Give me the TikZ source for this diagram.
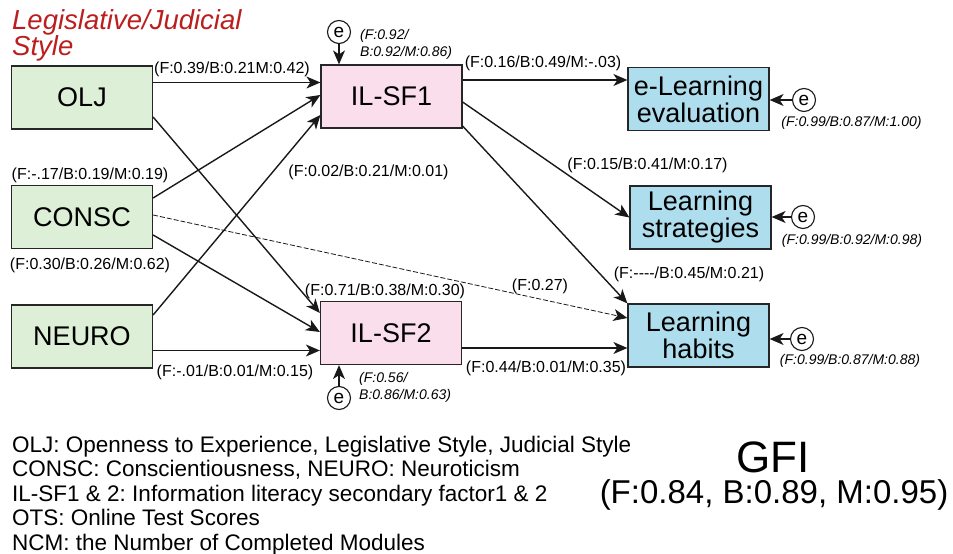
\documentclass[tikz,border=0pt]{standalone}
\usepackage{fontspec}
\setmainfont{Liberation Sans}
\usetikzlibrary{arrows.meta,calc}
\definecolor{boxgreen}{RGB}{221,239,214}
\definecolor{boxpink}{RGB}{250,222,236}
\definecolor{boxblue}{RGB}{174,221,238}
\definecolor{titlered}{RGB}{187,30,30}
\frenchspacing
\begin{document}
\begin{tikzpicture}[x=1bp,y=-1bp,
  box/.style={draw=black!85, line width=1.2bp, minimum width=141bp, minimum height=63bp,
    inner sep=0pt, align=center, font=\fontsize{27bp}{27bp}\selectfont},
  arr/.style={draw=black!90, line width=1.4bp, -{Stealth[length=14bp,width=12bp,inset=4bp]}},
  dasharr/.style={arr, line width=0.8bp, dash pattern=on 5bp off 2bp},
  errc/.style={draw=black!90, circle, line width=1.1bp, minimum size=23bp, inner sep=0pt,
    font=\fontsize{19bp}{19bp}\selectfont},
  lab/.style={font=\fontsize{16bp}{16bp}\selectfont, inner sep=0pt, anchor=base},
  ilab/.style={font=\fontsize{14bp}{14bp}\selectfont\itshape, inner sep=0pt, anchor=base},
  legend/.style={font=\fontsize{22.5bp}{22.5bp}\selectfont, inner sep=0pt, anchor=base west},
  heading/.style={anchor=base west, inner sep=0pt, text=titlered,
    font=\fontsize{27.5bp}{27.5bp}\selectfont\itshape}]
\useasboundingbox (0,0) rectangle (953,554);

% heading
\node[heading] (head1) at (12,30) {Legislative/Judicial};
\node[heading] (head2) at (12,56) {Style};

% exogenous variables
\node[box, fill=boxgreen] (olj)   at (82,97.5)  {OLJ};
\node[box, fill=boxgreen] (consc) at (82,217)   {CONSC};
\node[box, fill=boxgreen] (neuro) at (82,336.5) {NEURO};

% mediators
\node[box, fill=boxpink] (sf1) at (391.5,96.5) {IL-SF1};
\node[box, fill=boxpink] (sf2) at (391,333)    {IL-SF2};

% outcomes
\node[box, fill=boxblue] (eval)   at (698.5,99)    {e-Learning\\evaluation};
\node[box, fill=boxblue] (strat)  at (700.5,217.5) {Learning\\strategies};
\node[box, fill=boxblue] (habits) at (698.5,335.5) {Learning\\habits};

% error terms
\node[errc] (e1) at (339,32)  {e};
\node[errc] (e2) at (339,398) {e};
\node[errc] (e3) at (804,100) {e};
\node[errc] (e4) at (803,217) {e};
\node[errc] (e5) at (802,339) {e};

% paths into IL-SF1 / IL-SF2
\draw[arr] ([yshift=15bp]olj.east) coordinate (p1) -- (p1 -| sf1.west);
\draw[arr] ([yshift=-19.5bp]olj.east) -- ([yshift=20bp]sf2.west);
\draw[arr] ([yshift=19bp]consc.east) -- ([yshift=1.5bp]sf1.west);
\draw[arr] ([yshift=-18bp]consc.east) -- ([yshift=1bp]sf2.west);
\draw[dasharr] ([yshift=2bp]consc.east) -- ([yshift=17.5bp]habits.west);
\draw[arr] ([yshift=21.5bp]neuro.east) -- ([yshift=-18.5bp]sf1.west);
\draw[arr] ([yshift=-14bp]neuro.east) coordinate (p2) -- (p2 -| sf2.west);

% paths into outcomes
\draw[arr] ([yshift=16.5bp]sf1.east) coordinate (p3) -- (p3 -| eval.west);
\draw[arr] ([yshift=-5.5bp]sf1.east) -- (strat.west);
\draw[arr] ([yshift=-29.5bp]sf1.east) -- (habits.north west);
\draw[arr] ([yshift=-15bp]sf2.east) coordinate (p4) -- (p4 -| habits.west);

% error arrows
\draw[arr] (e1.south) -- (e1 |- sf1.north);
\draw[arr] (e2.north) -- (e2 |- sf2.south);
\draw[arr] (e3.west) -- (e3 -| eval.east);
\draw[arr] (e4.west) -- (e4 -| strat.east);
\draw[arr] (e5.west) -- (e5 -| habits.east);

% path coefficients
\node[lab] (l1)  at (232,74)   {(F:0.39/B:0.21M:0.42)};
\node[lab] (l2)  at (543,68)   {(F:0.16/B:0.49/M:-.03)};
\node[lab] (l3)  at (90,180)   {(F:-.17/B:0.19/M:0.19)};
\node[lab] (l4)  at (90,270)   {(F:0.30/B:0.26/M:0.62)};
\node[lab] (l5)  at (368.5,177) {(F:0.02/B:0.21/M:0.01)};
\node[lab] (l6)  at (647.5,170) {(F:0.15/B:0.41/M:0.17)};
\node[lab] (l7)  at (689,279)  {(F:{-}{-}{-}{-}/B:0.45/M:0.21)};
\node[lab] (l8)  at (540,291)  {(F:0.27)};
\node[lab] (l9)  at (385,296)  {(F:0.71/B:0.38/M:0.30)};
\node[lab] (l10) at (235,377)  {(F:-.01/B:0.01/M:0.15)};
\node[lab] (l11) at (546,373)  {(F:0.44/B:0.01/M:0.35)};

% explained variance
\node[ilab, anchor=base west] (r1a) at (360,40)  {(F:0.92/};
\node[ilab, anchor=base west] (r1b) at (360,57)  {B:0.92/M:0.86)};
\node[ilab, anchor=base west] (r2a) at (359,382) {(F:0.56/};
\node[ilab, anchor=base west] (r2b) at (359,399) {B:0.86/M:0.63)};
\node[ilab] (r3) at (851.5,127) {(F:0.99/B:0.87/M:1.00)};
\node[ilab] (r4) at (852,245)   {(F:0.99/B:0.92/M:0.98)};
\node[ilab] (r5) at (850,365)   {(F:0.99/B:0.87/M:0.88)};

% legend
\node[legend] (k1) at (12,452)   {OLJ: Openness to Experience, Legislative Style, Judicial Style};
\node[legend] (k2) at (12,476.5) {CONSC: Conscientiousness, NEURO: Neuroticism};
\node[legend] (k3) at (12,501)   {IL-SF1 \& 2: Information literacy secondary factor1 \& 2};
\node[legend] (k4) at (12,525.5) {OTS: Online Test Scores};
\node[legend] (k5) at (12,550)   {NCM: the Number of Completed Modules};

% fit index
\node[anchor=base, inner sep=0pt, font=\fontsize{44bp}{44bp}\selectfont] (gfi) at (773,472) {GFI};
\node[anchor=base, inner sep=0pt, font=\fontsize{33bp}{33bp}\selectfont] (gfiv) at (774,503) {(F:0.84, B:0.89, M:0.95)};
\end{tikzpicture}
\end{document}
